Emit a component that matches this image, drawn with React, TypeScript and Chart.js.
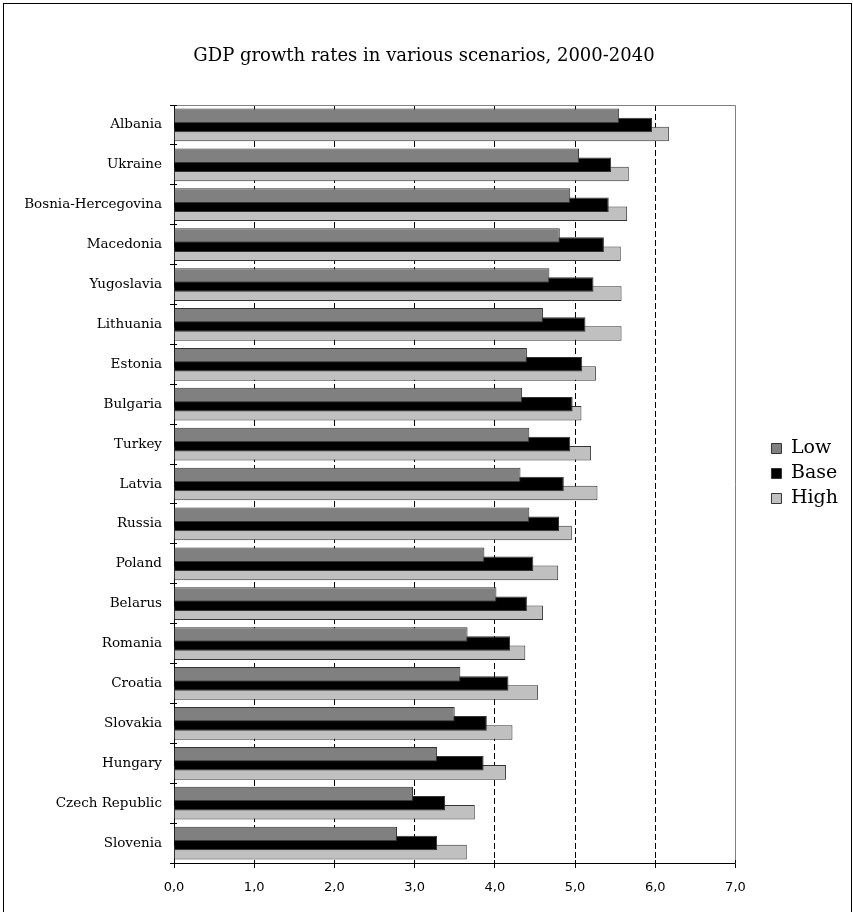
import React, { useEffect, useRef } from "react";
import { Chart, registerables } from "chart.js";

Chart.register(...registerables);

const titleText = "GDP growth rates in various scenarios, 2000-2040";

const categories = [
  "Albania",
  "Ukraine",
  "Bosnia-Hercegovina",
  "Macedonia",
  "Yugoslavia",
  "Lithuania",
  "Estonia",
  "Bulgaria",
  "Turkey",
  "Latvia",
  "Russia",
  "Poland",
  "Belarus",
  "Romania",
  "Croatia",
  "Slovakia",
  "Hungary",
  "Czech Republic",
  "Slovenia",
];

const seriesNames = ["Low", "Base", "High"];

const lowValues = [5.55, 5.05, 4.94, 4.81, 4.68, 4.6, 4.4, 4.34, 4.43, 4.32, 4.43, 3.87, 4.02, 3.66, 3.57, 3.5, 3.28, 2.98, 2.78];
const baseValues = [5.96, 5.45, 5.42, 5.36, 5.23, 5.13, 5.09, 4.97, 4.94, 4.86, 4.8, 4.48, 4.4, 4.19, 4.17, 3.9, 3.86, 3.38, 3.28];
const highValues = [6.17, 5.67, 5.65, 5.57, 5.58, 5.58, 5.26, 5.08, 5.2, 5.28, 4.96, 4.79, 4.6, 4.38, 4.54, 4.22, 4.14, 3.75, 3.65];

const xTickLabels = ["0,0", "1,0", "2,0", "3,0", "4,0", "5,0", "6,0", "7,0"];

const seriesColors = ["#808080", "#000000", "#c0c0c0"];

const align = (v: number) => Math.round(v - 0.5) + 0.5;

const framePlugin = {
  id: "frame",
  afterDatasetsDraw(chart: any) {
    const { ctx, chartArea: a, scales } = chart;
    ctx.save();
    ctx.lineWidth = 1;
    // top and right frame lines
    ctx.strokeStyle = "#808080";
    ctx.beginPath();
    ctx.moveTo(align(a.left), align(a.top));
    ctx.lineTo(align(a.right), align(a.top));
    ctx.lineTo(align(a.right), align(a.bottom));
    ctx.stroke();
    // inner tick marks (cross ticks)
    ctx.strokeStyle = "#000";
    ctx.beginPath();
    const ys = scales.y;
    for (let i = 0; i <= categories.length; i++) {
      const py = align(ys.getPixelForValue(i - 0.5));
      ctx.moveTo(a.left, py);
      ctx.lineTo(a.left + 3, py);
    }
    const xs = scales.x;
    for (let i = 1; i < xTickLabels.length; i++) {
      const px = align(xs.getPixelForValue(i));
      ctx.moveTo(px, a.bottom);
      ctx.lineTo(px, a.bottom - 3);
    }
    ctx.stroke();
    ctx.restore();
  },
};

export default function App() {
  const canvasRef = useRef<HTMLCanvasElement | null>(null);

  useEffect(() => {
    const canvas = canvasRef.current;
    if (!canvas) return;
    const values = [lowValues, baseValues, highValues];
    const chart = new Chart(canvas, {
      type: "bar",
      data: {
        labels: categories,
        datasets: seriesNames.map((name, i) => ({
          label: name,
          data: values[i],
          backgroundColor: seriesColors[i],
          borderColor: "#333333",
          borderWidth: 1,
          categoryPercentage: 0.684,
          barPercentage: 1.6,
        })),
      },
      options: {
        indexAxis: "y",
        responsive: false,
        animation: false,
        devicePixelRatio: 1,
        layout: { padding: { left: 0, right: 5, top: 0, bottom: 0 } },
        plugins: {
          tooltip: { enabled: false },
          title: {
            display: true,
            text: titleText,
            color: "#000",
            font: { family: "DejaVu Serif", size: 18, weight: "normal" },
            padding: { top: 46, bottom: 37.4 },
          },
          legend: {
            position: "right",
            fullSize: false,
            align: "start",
            title: {
              display: true,
              text: "",
              font: { size: 10 },
              padding: { top: 316, bottom: 0 },
            },
            labels: {
              color: "#000",
              font: { family: "DejaVu Serif", size: 19 },
              boxWidth: 10,
              boxHeight: 10,
              padding: 6,
            },
          },
        },
        scales: {
          x: {
            type: "linear",
            position: "bottom",
            min: 0,
            max: 7,
            ticks: {
              stepSize: 1,
              color: "#000",
              font: { family: "DejaVu Sans", size: 13 },
              padding: 12,
              callback: (_v: any, index: number) => xTickLabels[index],
            },
            grid: {
              color: (ctx: any) =>
                ctx.tick && (ctx.tick.value === 0 || ctx.tick.value === 7) ? "rgba(0,0,0,0)" : "#000",
              tickColor: "#000",
              lineWidth: 1,
              drawTicks: true,
              tickLength: 5,
            },
            border: { display: true, color: "#000", width: 1, dash: [6, 3] },
            afterFit: (s: any) => {
              s.height = 49;
            },
          },
          y: {
            type: "category",
            position: "left",
            ticks: {
              color: "#000",
              font: { family: "DejaVu Serif", size: 13.5 },
              padding: 8,
            },
            grid: {
              offset: true,
              drawOnChartArea: false,
              drawTicks: true,
              tickLength: 4,
              color: "#000",
            },
            border: { display: true, color: "#000", width: 1 },
            afterFit: (s: any) => {
              s.width = 174;
            },
          },
          yRight: {
            type: "category",
            position: "right",
            display: true,
            ticks: { display: false },
            grid: { display: false },
            border: { display: false },
            afterFit: (s: any) => {
              s.width = 30;
            },
          },
        },
      },
      plugins: [framePlugin],
    } as any);
    return () => chart.destroy();
  }, []);

  return (
    <div style={{ position: "fixed", left: 0, top: 0, width: 853, height: 912, background: "#fff", overflow: "hidden" }}>
      <canvas ref={canvasRef} width={853} height={912} style={{ position: "absolute", left: 0, top: 0, width: 853, height: 912 }} />
      <div
        style={{
          position: "absolute",
          left: 3,
          top: 3,
          width: 849,
          height: 940,
          boxSizing: "border-box",
          border: "1px solid #000",
          pointerEvents: "none",
        }}
      />
    </div>
  );
}
